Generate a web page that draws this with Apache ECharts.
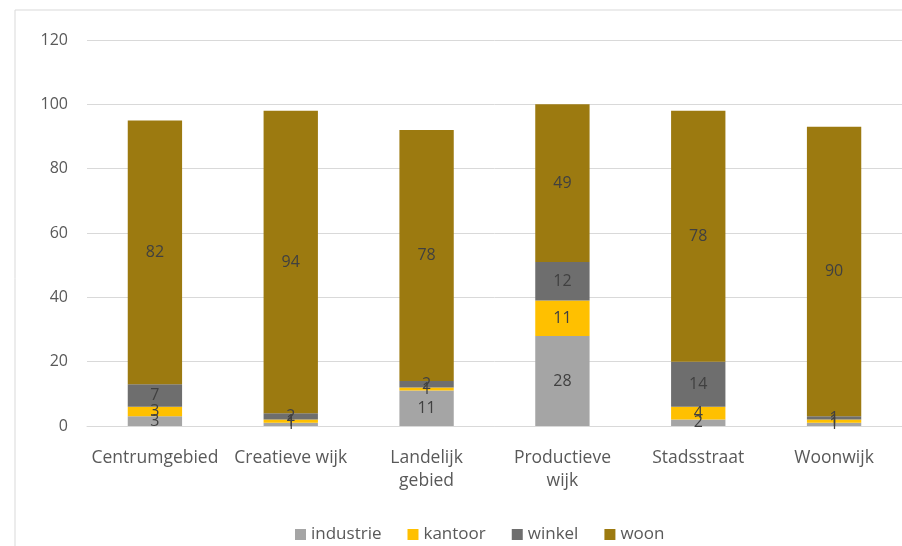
<!DOCTYPE html>
<html>
<head>
<meta charset="utf-8">
<script src="https://cdn.jsdelivr.net/npm/echarts@6/dist/echarts.min.js"></script>
<style>
  html, body { margin: 0; padding: 0; background: #fff; }
  #chart { width: 902px; height: 546px; }
</style>
</head>
<body>
<div id="chart"></div>
<script>
// Categories (wijktypen) and stacked shares per function
const categories = ['Centrumgebied', 'Creatieve wijk', 'Landelijk\ngebied', 'Productieve\nwijk', 'Stadsstraat', 'Woonwijk'];
const industrie = [3, 1, 11, 28, 2, 1];
const kantoor   = [3, 1, 1, 11, 4, 1];
const winkel    = [7, 2, 2, 12, 14, 1];
const woon      = [82, 94, 78, 49, 78, 90];
const yTicks = { min: 0, max: 120, interval: 20 };

const font = '"Open Sans", "Noto Sans", sans-serif';

function series(name, data, color) {
  return {
    name: name,
    type: 'bar',
    stack: 'total',
    data: data,
    barWidth: '40%',
    itemStyle: { color: color },
    label: {
      show: true,
      position: 'inside',
      color: '#404040',
      fontFamily: font,
      fontSize: 16
    }
  };
}

const chart = echarts.init(document.getElementById('chart'), null, { renderer: 'canvas' });
chart.setOption({
  animation: false,
  backgroundColor: '#ffffff',
  graphic: [{
    type: 'rect',
    shape: { x: 15, y: 10, width: 900, height: 560 },
    style: { fill: 'none', stroke: '#d9d9d9', lineWidth: 1 },
    silent: true,
    z: -10
  }],
  grid: { left: 87, top: 40, width: 818, bottom: 120, containLabel: false },
  legend: {
    bottom: -2,
    left: 290,
    itemWidth: 11,
    itemHeight: 11,
    itemGap: 26,
    icon: 'rect',
    textStyle: { color: '#595959', fontFamily: font, fontSize: 17 },
    data: ['industrie', 'kantoor', 'winkel', 'woon']
  },
  xAxis: {
    type: 'category',
    data: categories,
    axisTick: { show: false },
    axisLine: { lineStyle: { color: '#d9d9d9' } },
    axisLabel: {
      color: '#595959',
      fontFamily: font,
      fontSize: 17.5,
      lineHeight: 23,
      margin: 21,
      interval: 0
    }
  },
  yAxis: {
    type: 'value',
    min: yTicks.min,
    max: yTicks.max,
    interval: yTicks.interval,
    axisLine: { show: false },
    axisTick: { show: false },
    splitLine: { lineStyle: { color: '#d9d9d9' } },
    axisLabel: { color: '#595959', fontFamily: font, fontSize: 16, margin: 19 }
  },
  series: [
    series('industrie', industrie, '#a5a5a5'),
    series('kantoor', kantoor, '#ffc000'),
    series('winkel', winkel, '#6e6e6e'),
    series('woon', woon, '#9c7a10')
  ]
});
</script>
</body>
</html>
